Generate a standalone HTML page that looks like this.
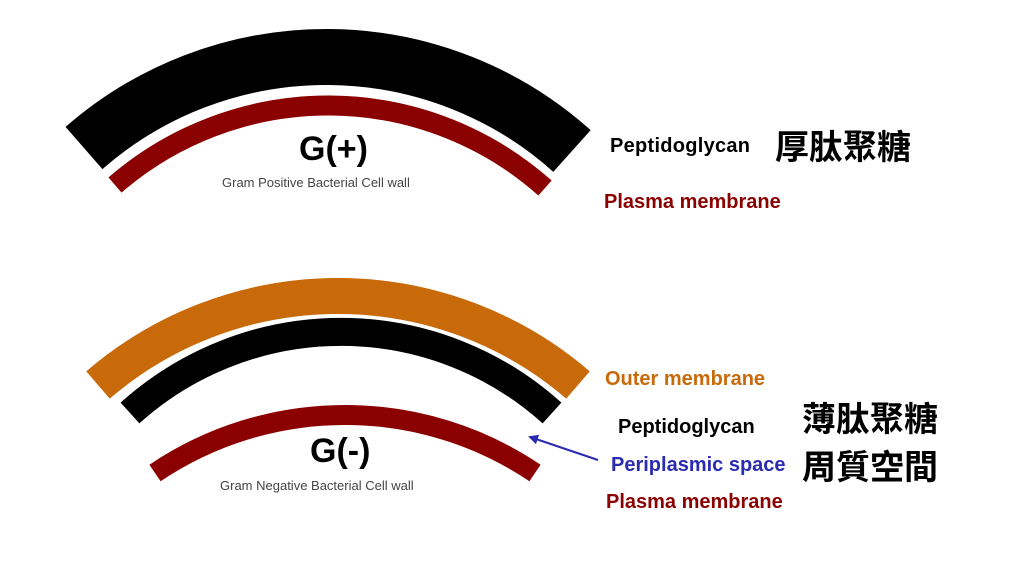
<!DOCTYPE html>
<html><head><meta charset="utf-8"><style>
body{margin:0;background:#fff}
svg{display:block}
text{font-family:"Liberation Sans","Noto Sans CJK TC",sans-serif}
</style></head><body>
<svg width="1024" height="576" viewBox="0 0 1024 576">
<defs><marker id="ah" markerWidth="10" markerHeight="10" refX="8" refY="5" orient="auto" markerUnits="userSpaceOnUse"><path d="M0,0 L10,5 L0,10 z" fill="#2b2bb0"/></marker></defs>
<path d="M84 148 A368 368 0 0 1 572 151" fill="none" stroke="#000" stroke-width="56"/>
<path d="M115 185 A326 326 0 0 1 545 188" fill="none" stroke="#8b0000" stroke-width="20"/>
<path d="M98 385 A368 368 0 0 1 578 385" fill="none" stroke="#c8690a" stroke-width="36"/>
<path d="M130 413 A315 315 0 0 1 552 413" fill="none" stroke="#000" stroke-width="28"/>
<path d="M155 473 A340 340 0 0 1 535 473" fill="none" stroke="#8b0000" stroke-width="20"/>
<text x="299" y="160" font-size="34" font-weight="bold">G(+)</text>
<text x="222" y="187" font-size="13" fill="#444">Gram Positive Bacterial Cell wall</text>
<text x="610" y="152" font-size="20" font-weight="bold" textLength="140">Peptidoglycan</text>
<text x="775" y="159" font-size="34" font-weight="bold">厚肽聚糖</text>
<text x="604" y="208" font-size="20" font-weight="bold" fill="#8b0000">Plasma membrane</text>
<text x="310" y="462" font-size="34" font-weight="bold">G(-)</text>
<text x="220" y="490" font-size="13" fill="#444">Gram Negative Bacterial Cell wall</text>
<text x="605" y="385" font-size="20" font-weight="bold" fill="#c8690a">Outer membrane</text>
<text x="618" y="433" font-size="20" font-weight="bold">Peptidoglycan</text>
<text x="802" y="431" font-size="34" font-weight="bold">薄肽聚糖</text>
<text x="611" y="471" font-size="20" font-weight="bold" fill="#2b2bb0">Periplasmic space</text>
<text x="802" y="479" font-size="34" font-weight="bold">周質空間</text>
<text x="606" y="508" font-size="20" font-weight="bold" fill="#8b0000">Plasma membrane</text>
<line x1="598" y1="460" x2="530" y2="437" stroke="#2b2bb0" stroke-width="2" marker-end="url(#ah)"/>
</svg>
</body></html>
